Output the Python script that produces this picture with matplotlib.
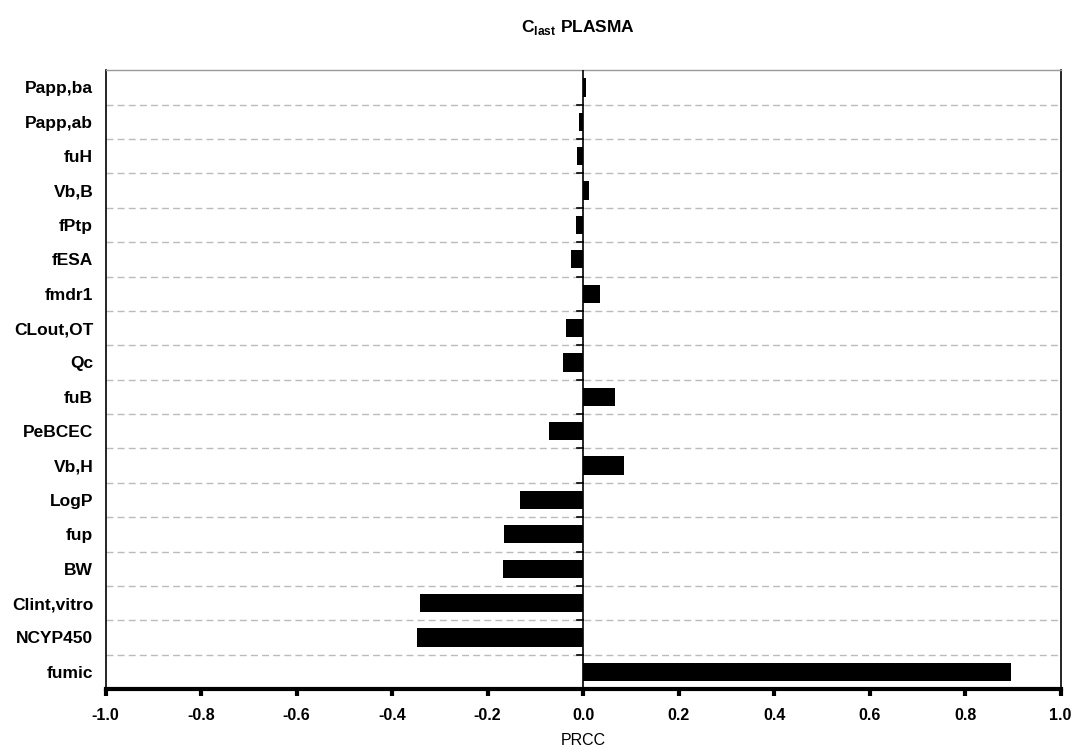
import numpy as np
import matplotlib.pyplot as plt

plt.rcParams['font.family'] = ['Liberation Sans', 'DejaVu Sans']

# parameters listed top to bottom
params = ['Papp,ba', 'Papp,ab', 'fuH', 'Vb,B', 'fPtp', 'fESA', 'fmdr1', 'CLout,OT', 'Qc',
          'fuB', 'PeBCEC', 'Vb,H', 'LogP', 'fup', 'BW', 'Clint,vitro', 'NCYP450', 'fumic']
prcc = [0.006, -0.009, -0.012, 0.013, -0.016, -0.026, 0.035, -0.036, -0.042,
        0.066, -0.072, 0.086, -0.133, -0.165, -0.168, -0.342, -0.347, 0.897]
xticks = [-1.0, -0.8, -0.6, -0.4, -0.2, 0.0, 0.2, 0.4, 0.6, 0.8, 1.0]

n = len(params)
ypos = np.arange(n)[::-1]

fig = plt.figure(figsize=(10.73, 7.5), dpi=100)
ax = fig.add_axes([0.0985, 0.0813, 0.890, 0.825])

ax.barh(ypos, prcc, height=0.53, color='black', zorder=3)

# dashed separators between categories
for b in np.arange(n - 1) + 0.5:
    ax.axhline(b, color='#bbbbbb', linestyle=(0, (5, 3)), linewidth=1, zorder=1)
    ax.plot([-0.012, 0], [b, b], color='black', linewidth=1.2, zorder=4)

ax.axvline(0, color='black', linewidth=1.2, zorder=4)

ax.set_xlim(-1.0, 1.0)
ax.set_ylim(-0.5, n - 0.5)
ax.set_xticks(xticks)
ax.set_xticklabels(['%.1f' % t for t in xticks], fontweight='bold', fontsize=11.5)
ax.set_yticks(ypos)
ax.set_yticklabels(params, fontweight='bold', fontsize=12.5)
ax.tick_params(axis='y', length=0, pad=9)
ax.tick_params(axis='x', direction='out', length=5, width=3, pad=9)

for s in ['left', 'right']:
    ax.spines[s].set_linewidth(1.2)
ax.spines['top'].set_color('#999999')
ax.spines['top'].set_linewidth(1)
ax.spines['bottom'].set_linewidth(3)

ax.set_xlabel('PRCC', fontsize=11.5, labelpad=7)
fig.text(0.539, 0.963, r'C$_{\mathregular{last}}$ PLASMA', fontsize=12.5,
         fontweight='bold', ha='center', va='center')

plt.savefig('out.png', dpi=100)
